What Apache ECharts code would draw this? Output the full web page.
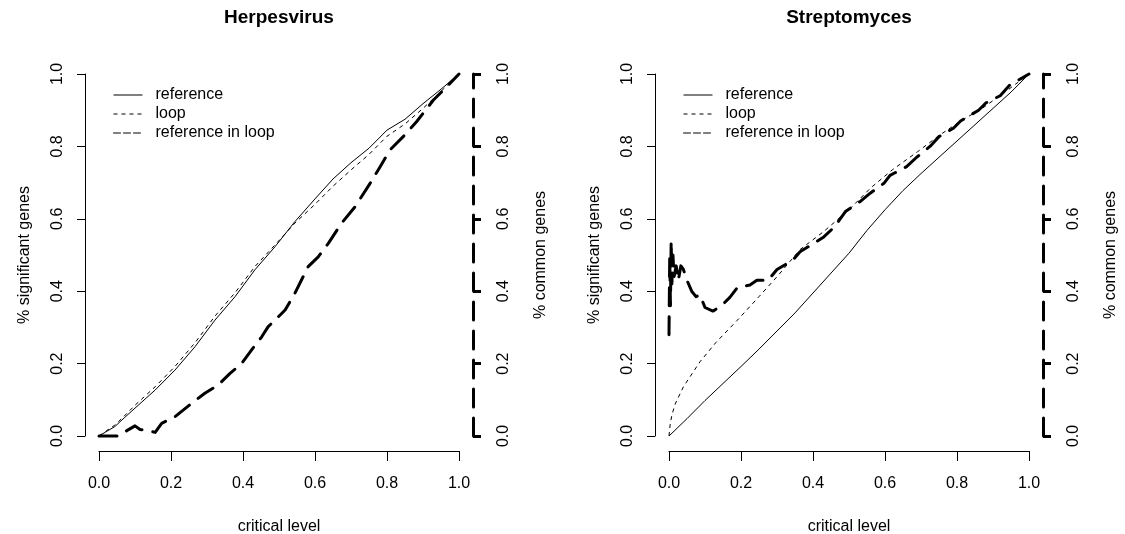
<!DOCTYPE html>
<html>
<head>
<meta charset="utf-8">
<title>critical level</title>
<script src="https://cdn.jsdelivr.net/npm/echarts@6/dist/echarts.min.js"></script>
<style>
  html, body { margin: 0; padding: 0; background: #fff; }
  #chart { width: 1125px; height: 534px; }
</style>
</head>
<body>
<div id="chart"></div>
<script>
// tick labels shared by all axes
const tickValues = [0, 0.2, 0.4, 0.6, 0.8, 1.0];
const tickLabels = ["0.0", "0.2", "0.4", "0.6", "0.8", "1.0"];
const seriesNames = ["reference", "loop", "reference in loop"];

// Herpesvirus
const herpesRefX = [0, 0.02, 0.044, 0.07, 0.1, 0.156, 0.211, 0.267, 0.322, 0.378, 0.433, 0.489, 0.544, 0.6, 0.65, 0.7, 0.75, 0.8, 0.85, 0.9, 0.95, 1];
const herpesRefY = [0, 0.012, 0.026, 0.05, 0.077, 0.127, 0.182, 0.247, 0.32, 0.385, 0.459, 0.523, 0.592, 0.655, 0.71, 0.755, 0.795, 0.845, 0.875, 0.918, 0.958, 1];
const herpesLoopX = [0, 0.02, 0.044, 0.07, 0.1, 0.156, 0.211, 0.267, 0.322, 0.378, 0.433, 0.489, 0.544, 0.6, 0.65, 0.7, 0.75, 0.8, 0.85, 0.9, 0.95, 1];
const herpesLoopY = [0, 0.014, 0.03, 0.055, 0.085, 0.136, 0.192, 0.258, 0.331, 0.396, 0.468, 0.528, 0.588, 0.64, 0.69, 0.735, 0.778, 0.828, 0.862, 0.905, 0.952, 1];
const herpesCommonX = [0, 0.054, 0.081, 0.1, 0.114, 0.135, 0.156, 0.174, 0.211, 0.257, 0.294, 0.331, 0.364, 0.396, 0.424, 0.452, 0.47, 0.494, 0.517, 0.544, 0.581, 0.609, 0.637, 0.674, 0.711, 0.753, 0.781, 0.808, 0.845, 0.882, 0.929, 0.966, 1];
const herpesCommonY = [0, 0, 0.017, 0.028, 0.018, 0.015, 0.01, 0.035, 0.053, 0.09, 0.118, 0.141, 0.173, 0.2, 0.238, 0.274, 0.302, 0.325, 0.348, 0.394, 0.468, 0.495, 0.532, 0.588, 0.633, 0.698, 0.744, 0.79, 0.827, 0.868, 0.928, 0.965, 1];

// Streptomyces
const streptoRefX = [0, 0.05, 0.1, 0.15, 0.2, 0.25, 0.3, 0.35, 0.4, 0.45, 0.5, 0.55, 0.6, 0.65, 0.7, 0.75, 0.8, 0.85, 0.9, 0.95, 1];
const streptoRefY = [0, 0.048, 0.098, 0.145, 0.192, 0.24, 0.29, 0.34, 0.395, 0.45, 0.505, 0.568, 0.625, 0.678, 0.725, 0.77, 0.815, 0.86, 0.905, 0.95, 1];
const streptoLoopX = [0, 0.003, 0.008, 0.017, 0.04, 0.086, 0.13, 0.19, 0.25, 0.3, 0.364, 0.43, 0.5, 0.56, 0.62, 0.69, 0.75, 0.81, 0.87, 0.94, 1];
const streptoLoopY = [0, 0.03, 0.058, 0.088, 0.136, 0.205, 0.258, 0.32, 0.385, 0.44, 0.515, 0.565, 0.625, 0.685, 0.735, 0.785, 0.83, 0.87, 0.905, 0.955, 1];
const streptoCommonX = [0, 0.002, 0.004, 0.006, 0.008, 0.011, 0.014, 0.02, 0.026, 0.033, 0.04, 0.05, 0.063, 0.075, 0.086, 0.1, 0.122, 0.146, 0.169, 0.19, 0.225, 0.244, 0.275, 0.3, 0.344, 0.364, 0.41, 0.43, 0.46, 0.49, 0.53, 0.558, 0.597, 0.614, 0.66, 0.688, 0.725, 0.75, 0.79, 0.81, 0.86, 0.88, 0.92, 0.947, 1];
const streptoCommonY = [0.28, 0.5, 0.36, 0.54, 0.42, 0.5, 0.44, 0.47, 0.43, 0.47, 0.46, 0.43, 0.4, 0.385, 0.39, 0.355, 0.345, 0.36, 0.383, 0.41, 0.417, 0.43, 0.43, 0.46, 0.486, 0.509, 0.537, 0.55, 0.578, 0.62, 0.647, 0.67, 0.698, 0.72, 0.744, 0.77, 0.8, 0.827, 0.85, 0.87, 0.9, 0.92, 0.94, 0.97, 1];

const FONT = "'Liberation Sans', Arial, Helvetica, sans-serif";

function zip(xs, ys) {
  return xs.map((x, i) => [x, ys[i]]);
}

function fmtTick(v) {
  const i = tickValues.findIndex(t => Math.abs(t - v) < 1e-9);
  return i >= 0 ? tickLabels[i] : "";
}

const panels = [
  { title: "Herpesvirus", left: 99, ref: zip(herpesRefX, herpesRefY), loop: zip(herpesLoopX, herpesLoopY), common: zip(herpesCommonX, herpesCommonY) },
  { title: "Streptomyces", left: 669, ref: zip(streptoRefX, streptoRefY), loop: zip(streptoLoopX, streptoLoopY), common: zip(streptoCommonX, streptoCommonY) },
];

const axisBase = {
  type: "value",
  min: 0,
  max: 1,
  interval: 0.2,
  splitLine: { show: false },
  axisLine: { show: true, onZero: false, lineStyle: { color: "#000", width: 1 } },
  axisTick: { show: true, length: 8, lineStyle: { color: "#000", width: 1 } },
  axisLabel: { color: "#000", fontSize: 16, fontFamily: FONT, formatter: fmtTick, showMinLabel: true, showMaxLabel: true },
  nameTextStyle: { color: "#000", fontSize: 16, fontFamily: FONT },
  nameLocation: "middle",
};

const noSymbol = { color: "rgba(0,0,0,0)", opacity: 0, borderWidth: 0 };

const option = {
  animation: false,
  backgroundColor: "#fff",
  title: [],
  legend: [],
  grid: [],
  xAxis: [],
  yAxis: [],
  series: [],
};

panels.forEach((p, k) => {
  option.title.push({
    text: p.title,
    left: p.left + 180 - 5,
    top: 3,
    textAlign: "center",
    textStyle: { fontSize: 19, fontWeight: "bold", color: "#000", fontFamily: FONT },
  });
  option.grid.push({ left: p.left, top: 74, width: 360, height: 362, containLabel: false, outerBoundsMode: "none" });
  option.xAxis.push({
    ...axisBase,
    gridIndex: k,
    offset: 15,
    name: "critical level",
    nameGap: 68,
    axisTick: { show: true, length: 10, lineStyle: { color: "#000", width: 1 } },
    axisLabel: { ...axisBase.axisLabel, margin: 25 },
  });
  option.yAxis.push({
    ...axisBase,
    gridIndex: k,
    position: "left",
    offset: 14,
    name: "% significant genes",
    nameGap: 52,
    axisLabel: { ...axisBase.axisLabel, rotate: 90, margin: 19 },
  });
  option.yAxis.push({
    ...axisBase,
    gridIndex: k,
    position: "right",
    offset: 14,
    name: "% common genes",
    nameGap: 60,
    nameRotate: 90,
    axisLine: { show: true, onZero: false, lineStyle: { color: "#000", width: 3, type: [18, 11], cap: "round" } },
    axisTick: { show: true, length: 8, lineStyle: { color: "#000", width: 3 } },
    axisLabel: { ...axisBase.axisLabel, rotate: 90, margin: 23 },
  });
  option.legend.push({
    left: p.left + 9,
    top: 82,
    orient: "vertical",
    itemWidth: 29,
    itemHeight: 14,
    itemGap: 3,
    selectedMode: false,
    textStyle: { color: "#000", fontSize: 16, fontFamily: FONT, lineHeight: 16, padding: [0, 0, 0, 8] },
    data: [
      { name: seriesNames[0], itemStyle: noSymbol, lineStyle: { width: 1, type: "solid", color: "#000" } },
      { name: seriesNames[1], itemStyle: noSymbol, lineStyle: { width: 1, type: [4, 4], color: "#000" } },
      { name: seriesNames[2], itemStyle: noSymbol, lineStyle: { width: 1, type: [7, 3], color: "#000" } },
    ],
  });
  const line = (name, data, yIdx, style) => ({
    name,
    type: "line",
    xAxisIndex: k,
    yAxisIndex: yIdx,
    data,
    symbol: "none",
    clip: false,
    smooth: false,
    lineStyle: Object.assign({ color: "#000", width: 1, join: "round" }, style),
    itemStyle: { color: "#000" },
  });
  option.series.push(line(seriesNames[0], p.ref, 2 * k, { type: "solid" }));
  option.series.push(line(seriesNames[1], p.loop, 2 * k, { type: [4, 4] }));
  option.series.push(line(seriesNames[2], p.common, 2 * k + 1, { type: [18, 11], width: 3, cap: "round" }));
});

const chart = echarts.init(document.getElementById("chart"), null, { renderer: "canvas" });
chart.setOption(option);
</script>
</body>
</html>
